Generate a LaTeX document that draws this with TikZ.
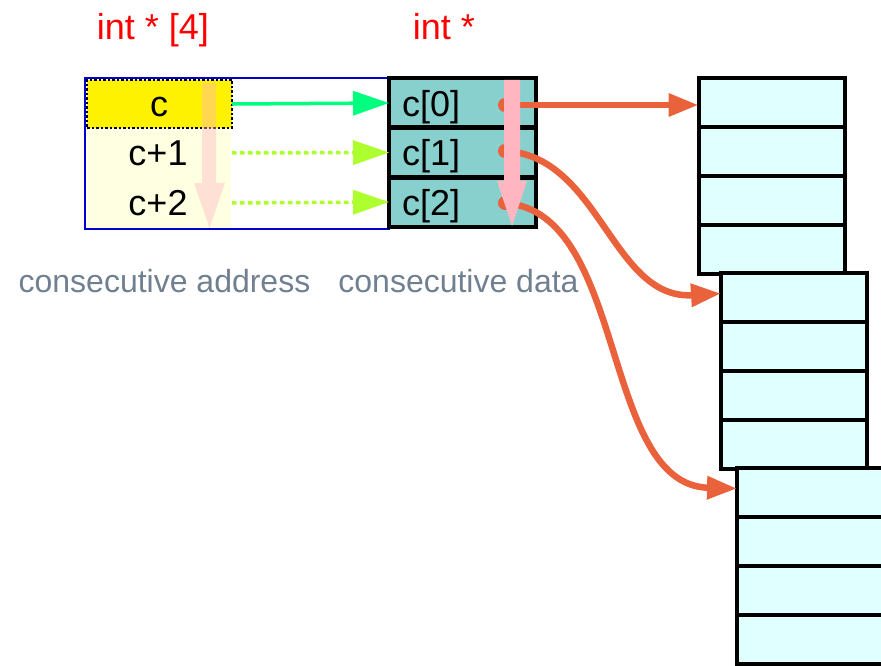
\documentclass[tikz,border=0pt]{standalone}
\usepackage{fontspec}
\setmainfont{Liberation Sans}
\usetikzlibrary{arrows.meta}
\definecolor{tealcell}{RGB}{136,208,205}
\definecolor{cyancell}{RGB}{224,255,255}
\definecolor{ptrorange}{RGB}{234,98,60}
\definecolor{lyellow}{RGB}{255,255,226}
\definecolor{pinkarrow}{RGB}{255,182,193}
\definecolor{slategray}{RGB}{112,128,144}
\definecolor{sgreen}{RGB}{0,255,127}
\definecolor{gyellow}{RGB}{173,255,47}
\definecolor{boxblue}{RGB}{0,0,205}
\tikzset{
  bigtext/.style={font=\fontsize{36}{40}\selectfont, inner sep=0pt},
  graytext/.style={font=\fontsize{32}{36}\selectfont, text=slategray, inner sep=0pt, anchor=base},
  redtext/.style={font=\fontsize{36}{40}\selectfont, text=red, inner sep=0pt, anchor=base},
  datacell/.style={draw=black, line width=4pt, fill=tealcell, minimum width=147pt, minimum height=49pt, inner sep=0pt, outer sep=0pt},
  memcell/.style={draw=black, line width=4pt, fill=cyancell, minimum width=146pt, minimum height=49pt, inner sep=0pt, outer sep=0pt},
  addrcell/.style={minimum width=145pt, minimum height=48pt, inner sep=0pt, outer sep=0pt},
  ptr/.style={draw=ptrorange, line width=6.5pt, -{Triangle[length=30pt,width=22pt]}},
  addrarrow/.style={line width=3.5pt, -{Triangle[length=36pt,width=24pt]}},
}
\begin{document}
\begin{tikzpicture}[x=1pt,y=-1pt]
\useasboundingbox (0,0) rectangle (881,666);
\clip (0,0) rectangle (881,666);

% labels
\node[redtext] (t1) at (153,40) {int * [4]};
\node[redtext] (t2) at (444,40) {int *};
\node[graytext] (g1) at (164.5,292) {consecutive address};
\node[graytext] (g2) at (458.5,292) {consecutive data};

% left address box
\node[draw=boxblue, line width=2pt, minimum width=304pt, minimum height=151pt, inner sep=0pt] (abox) at (237,153.5) {};
\fill[lyellow] (87,128) rectangle (231,228);
\node[addrcell, fill=yellow, draw=black, line width=1.8pt, dash pattern=on 2.5pt off 2pt] (a0) at (159.5,104) {};
\node[addrcell] (a1) at (159.5,153) {};
\node[addrcell] (a2) at (159.5,203) {};
\node[bigtext, anchor=base] (ta0) at (159,117) {c};
\node[bigtext, anchor=base] (ta1) at (158,166) {c+1};
\node[bigtext, anchor=base] (ta2) at (158,215) {c+2};

% translucent pink arrow (addresses)
\fill[pinkarrow, opacity=0.42] (202,83) -- (216,83) -- (216,183) -- (225,183) -- (209.5,228) -- (194,183) -- (202,183) -- cycle;

% data cells
\node[datacell] (c0) at (462.5,103) {};
\node[datacell] (c1) at (462.5,152.5) {};
\node[datacell] (c2) at (462.5,202) {};
\node[bigtext, anchor=base west] (tc0) at (402,117) {c[0]};
\node[bigtext, anchor=base west] (tc1) at (402,166) {c[1]};
\node[bigtext, anchor=base west] (tc2) at (402,215) {c[2]};

% address arrows
\draw[addrarrow, draw=sgreen, fill=sgreen] (a0.east) -- (c0.west);
\draw[addrarrow, draw=gyellow, fill=gyellow, dash pattern=on 4.5pt off 3.5pt] (a1.east) -- (c1.west);
\draw[addrarrow, draw=gyellow, fill=gyellow, dash pattern=on 4.5pt off 3.5pt] (a2.east) -- (c2.west);

% memory blocks
\foreach \i/\y in {1/102.5,2/151.5,3/200.5,4/249.5}{
  \node[memcell] (s1r\i) at (771.5,\y) {};
}
\foreach \i/\y in {1/297.5,2/346.5,3/395.5,4/444.5}{
  \node[memcell] (s2r\i) at (794,\y) {};
}
\foreach \i/\y in {1/492.5,2/541.5,3/590.5,4/639.5}{
  \node[memcell] (s3r\i) at (810,\y) {};
}

% pointer dots
\coordinate (d0) at (505,105);
\coordinate (d1) at (505,151);
\coordinate (d2) at (505,203);
\fill[ptrorange] (d0) circle (7pt);
\fill[ptrorange] (d1) circle (7pt);
\fill[ptrorange] (d2) circle (7pt);

% pointer arrows
\draw[ptr] (d0) -- (d0 -| s1r1.west);
\draw[ptr] (d1) .. controls (600,156) and (612,300) .. ([yshift=4pt]s2r1.west);
\draw[ptr] (d2) .. controls (628,212) and (600,485) .. ([yshift=4pt]s3r1.west);

% pink arrow (data)
\fill[pinkarrow] (504,80) -- (520,80) -- (520,181) -- (527,181) -- (512,226) -- (497,181) -- (504,181) -- cycle;
\end{tikzpicture}
\end{document}
